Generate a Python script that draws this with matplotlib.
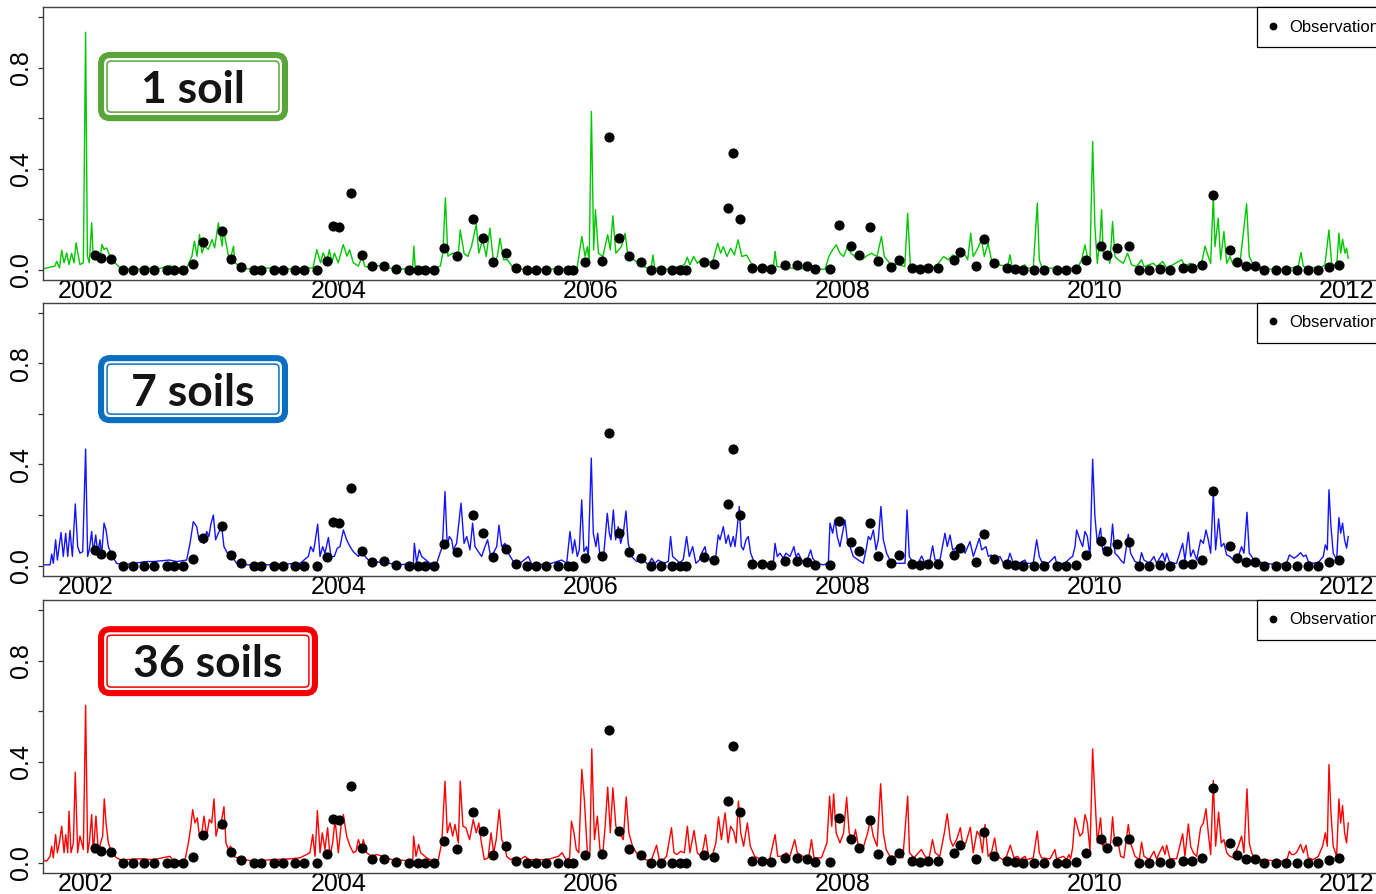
import numpy as np
import matplotlib.pyplot as plt
from matplotlib.patches import FancyBboxPatch
from matplotlib.lines import Line2D

# observations (decimal year, value) - same in all three panels
obs = [
    (2002.07, 0.060), (2002.12, 0.047), (2002.20, 0.043), (2002.29, 0.0), (2002.37, 0.0),
    (2002.46, 0.0), (2002.54, 0.0), (2002.64, 0.0), (2002.70, 0.0), (2002.77, 0.0),
    (2002.85, 0.025), (2002.93, 0.110), (2003.08, 0.155), (2003.15, 0.043), (2003.23, 0.010),
    (2003.33, 0.0), (2003.39, 0.0), (2003.49, 0.0), (2003.56, 0.0), (2003.66, 0.0),
    (2003.73, 0.0), (2003.83, 0.0), (2003.91, 0.035), (2003.96, 0.173), (2004.01, 0.170),
    (2004.10, 0.305), (2004.19, 0.057), (2004.27, 0.014), (2004.36, 0.017), (2004.46, 0.004),
    (2004.56, 0.0), (2004.63, 0.0), (2004.69, 0.0), (2004.76, 0.0), (2004.84, 0.087),
    (2004.94, 0.053), (2005.07, 0.202), (2005.15, 0.127), (2005.23, 0.033), (2005.33, 0.067),
    (2005.41, 0.007), (2005.50, 0.0), (2005.57, 0.0), (2005.65, 0.0), (2005.74, 0.0),
    (2005.82, 0.0), (2005.86, 0.0), (2005.96, 0.030), (2006.09, 0.037), (2006.15, 0.525),
    (2006.23, 0.127), (2006.31, 0.055), (2006.40, 0.030), (2006.48, 0.0), (2006.56, 0.0),
    (2006.65, 0.0), (2006.71, 0.0), (2006.76, 0.0), (2006.90, 0.033), (2006.98, 0.023),
    (2007.09, 0.245), (2007.13, 0.462), (2007.19, 0.200), (2007.28, 0.007), (2007.36, 0.007),
    (2007.43, 0.004), (2007.54, 0.020), (2007.64, 0.020), (2007.72, 0.016), (2007.78, 0.004),
    (2007.90, 0.004), (2007.97, 0.176), (2008.07, 0.095), (2008.13, 0.057), (2008.22, 0.170),
    (2008.28, 0.036), (2008.38, 0.010), (2008.45, 0.040), (2008.55, 0.007), (2008.61, 0.004),
    (2008.68, 0.007), (2008.76, 0.006), (2008.88, 0.040), (2008.93, 0.070), (2009.06, 0.016),
    (2009.12, 0.123), (2009.20, 0.026), (2009.30, 0.008), (2009.37, 0.004), (2009.43, 0.0),
    (2009.52, 0.0), (2009.60, 0.0), (2009.70, 0.0), (2009.77, 0.0), (2009.85, 0.004),
    (2009.93, 0.040), (2010.05, 0.096), (2010.10, 0.057), (2010.18, 0.086), (2010.27, 0.093),
    (2010.35, 0.0), (2010.43, 0.0), (2010.52, 0.004), (2010.60, 0.0), (2010.70, 0.008),
    (2010.77, 0.008), (2010.85, 0.021), (2010.94, 0.295), (2011.07, 0.077), (2011.13, 0.030),
    (2011.20, 0.014), (2011.27, 0.014), (2011.34, 0.0), (2011.44, 0.0), (2011.52, 0.0),
    (2011.60, 0.0), (2011.69, 0.0), (2011.77, 0.0), (2011.86, 0.013), (2011.94, 0.021),
]

# simulated series, 1 soil
sim_1soil = [
    (2001.659, 0.004), (2001.754, 0.015), (2001.767, 0.034), (2001.790, 0.008), (2001.807, 0.078),
    (2001.826, 0.028), (2001.847, 0.067), (2001.865, 0.021), (2001.886, 0.065), (2001.905, 0.028),
    (2001.921, 0.107), (2001.952, 0.021), (2001.979, 0.028), (2001.997, 0.940), (2002.011, 0.054),
    (2002.026, 0.028), (2002.045, 0.186), (2002.058, 0.041), (2002.085, 0.067), (2002.111, 0.048),
    (2002.127, 0.100), (2002.143, 0.081), (2002.164, 0.087), (2002.190, 0.054), (2002.230, 0.028),
    (2002.270, 0.008), (2002.320, 0.004), (2002.460, 0.004), (2002.480, 0.015), (2002.510, 0.004),
    (2002.550, 0.015), (2002.570, 0.004), (2002.670, 0.017), (2002.690, 0.004), (2002.800, 0.008),
    (2002.840, 0.054), (2002.860, 0.114), (2002.880, 0.054), (2002.900, 0.140), (2002.920, 0.067),
    (2002.940, 0.094), (2002.970, 0.081), (2003.000, 0.120), (2003.020, 0.087), (2003.050, 0.186),
    (2003.080, 0.094), (2003.090, 0.160), (2003.130, 0.054), (2003.150, 0.054), (2003.170, 0.094),
    (2003.180, 0.028), (2003.220, 0.015), (2003.270, 0.004), (2003.490, 0.008), (2003.620, 0.004),
    (2003.800, 0.008), (2003.830, 0.080), (2003.860, 0.028), (2003.880, 0.067), (2003.910, 0.034),
    (2003.930, 0.080), (2003.950, 0.028), (2003.970, 0.067), (2004.000, 0.028), (2004.040, 0.100),
    (2004.070, 0.054), (2004.090, 0.080), (2004.120, 0.028), (2004.160, 0.015), (2004.190, 0.054),
    (2004.210, 0.015), (2004.250, 0.008), (2004.360, 0.021), (2004.380, 0.008), (2004.490, 0.004),
    (2004.590, 0.004), (2004.600, 0.094), (2004.610, 0.015), (2004.750, 0.004), (2004.810, 0.015),
    (2004.830, 0.067), (2004.850, 0.285), (2004.870, 0.054), (2004.910, 0.067), (2004.950, 0.041),
    (2004.968, 0.158), (2004.998, 0.066), (2005.027, 0.053), (2005.057, 0.092), (2005.095, 0.181),
    (2005.115, 0.066), (2005.145, 0.119), (2005.174, 0.053), (2005.203, 0.165), (2005.233, 0.026),
    (2005.262, 0.053), (2005.283, 0.125), (2005.312, 0.040), (2005.342, 0.040), (2005.380, 0.013),
    (2005.424, 0.003), (2005.659, 0.003), (2005.894, 0.007), (2005.932, 0.132), (2005.958, 0.053),
    (2005.976, 0.092), (2005.990, 0.026), (2006.008, 0.627), (2006.026, 0.079), (2006.040, 0.238),
    (2006.064, 0.066), (2006.099, 0.053), (2006.137, 0.139), (2006.158, 0.079), (2006.178, 0.214),
    (2006.202, 0.066), (2006.246, 0.092), (2006.275, 0.145), (2006.299, 0.053), (2006.334, 0.046),
    (2006.378, 0.026), (2006.422, 0.013), (2006.481, 0.003), (2006.496, 0.059), (2006.510, 0.007),
    (2006.628, 0.003), (2006.745, 0.020), (2006.769, 0.050), (2006.789, 0.020), (2006.819, 0.053),
    (2006.848, 0.026), (2006.878, 0.042), (2006.921, 0.040), (2006.966, 0.026), (2007.010, 0.106),
    (2007.033, 0.066), (2007.054, 0.092), (2007.083, 0.053), (2007.112, 0.086), (2007.142, 0.059),
    (2007.171, 0.119), (2007.201, 0.053), (2007.239, 0.059), (2007.274, 0.026), (2007.333, 0.007),
    (2007.391, 0.013), (2007.450, 0.007), (2007.465, 0.073), (2007.479, 0.013), (2007.597, 0.007),
    (2007.744, 0.003), (2007.861, 0.003), (2007.891, 0.053), (2007.920, 0.079), (2007.950, 0.099),
    (2007.979, 0.066), (2008.008, 0.053), (2008.038, 0.092), (2008.067, 0.066), (2008.111, 0.046),
    (2008.155, 0.040), (2008.184, 0.053), (2008.228, 0.066), (2008.273, 0.053), (2008.308, 0.132),
    (2008.331, 0.053), (2008.375, 0.026), (2008.449, 0.020), (2008.493, 0.013), (2008.516, 0.224),
    (2008.537, 0.020), (2008.625, 0.013), (2008.742, 0.013), (2008.801, 0.053), (2008.836, 0.040),
    (2008.875, 0.059), (2008.919, 0.046), (2008.963, 0.066), (2008.992, 0.040), (2009.016, 0.145),
    (2009.036, 0.053), (2009.066, 0.079), (2009.101, 0.119), (2009.124, 0.053), (2009.154, 0.106),
    (2009.183, 0.033), (2009.242, 0.020), (2009.310, 0.013), (2009.327, 0.060), (2009.345, 0.010),
    (2009.388, 0.007), (2009.446, 0.020), (2009.459, 0.007), (2009.512, 0.007), (2009.544, 0.264),
    (2009.560, 0.040), (2009.578, 0.013), (2009.645, 0.007), (2009.777, 0.003), (2009.869, 0.013),
    (2009.896, 0.040), (2009.922, 0.099), (2009.941, 0.053), (2009.962, 0.040), (2009.983, 0.508),
    (2010.001, 0.172), (2010.020, 0.026), (2010.041, 0.119), (2010.054, 0.238), (2010.067, 0.066),
    (2010.094, 0.066), (2010.120, 0.026), (2010.141, 0.191), (2010.160, 0.053), (2010.186, 0.040),
    (2010.226, 0.026), (2010.260, 0.066), (2010.292, 0.020), (2010.332, 0.013), (2010.371, 0.040),
    (2010.390, 0.013), (2010.464, 0.026), (2010.490, 0.013), (2010.538, 0.033), (2010.570, 0.007),
    (2010.689, 0.040), (2010.715, 0.013), (2010.755, 0.026), (2010.808, 0.013), (2010.847, 0.026),
    (2010.874, 0.094), (2010.900, 0.053), (2010.919, 0.026), (2010.940, 0.297), (2010.953, 0.092),
    (2010.979, 0.205), (2010.998, 0.040), (2011.024, 0.152), (2011.046, 0.026), (2011.072, 0.053),
    (2011.098, 0.020), (2011.151, 0.026), (2011.204, 0.261), (2011.225, 0.053), (2011.257, 0.020),
    (2011.363, 0.003), (2011.495, 0.003), (2011.614, 0.013), (2011.635, 0.069), (2011.654, 0.013),
    (2011.786, 0.007), (2011.825, 0.020), (2011.857, 0.158), (2011.878, 0.026), (2011.918, 0.013),
    (2011.936, 0.145), (2011.950, 0.066), (2011.965, 0.121), (2011.984, 0.066), (2011.997, 0.086),
    (2012.010, 0.046),
]

# simulated series, 7 soils
sim_7soils = [
    (2001.659, 0.003), (2001.715, 0.003), (2001.728, 0.046), (2001.741, 0.009), (2001.759, 0.102),
    (2001.773, 0.022), (2001.802, 0.131), (2001.820, 0.036), (2001.839, 0.128), (2001.855, 0.036),
    (2001.873, 0.139), (2001.892, 0.036), (2001.915, 0.244), (2001.934, 0.075), (2001.952, 0.049),
    (2001.974, 0.055), (2001.997, 0.461), (2002.013, 0.036), (2002.026, 0.062), (2002.045, 0.135),
    (2002.058, 0.049), (2002.077, 0.121), (2002.093, 0.049), (2002.111, 0.102), (2002.124, 0.042),
    (2002.143, 0.168), (2002.159, 0.141), (2002.177, 0.075), (2002.204, 0.042), (2002.243, 0.009),
    (2002.296, 0.003), (2002.481, 0.016), (2002.534, 0.016), (2002.661, 0.022), (2002.719, 0.016),
    (2002.798, 0.022), (2002.825, 0.088), (2002.851, 0.174), (2002.878, 0.154), (2002.896, 0.102),
    (2002.917, 0.121), (2002.936, 0.088), (2002.957, 0.135), (2002.975, 0.115), (2002.989, 0.161),
    (2003.010, 0.200), (2003.028, 0.102), (2003.049, 0.128), (2003.076, 0.154), (2003.094, 0.075),
    (2003.129, 0.042), (2003.155, 0.036), (2003.195, 0.009), (2003.248, 0.003), (2003.433, 0.003),
    (2003.697, 0.009), (2003.763, 0.036), (2003.782, 0.075), (2003.803, 0.055), (2003.816, 0.091),
    (2003.837, 0.164), (2003.856, 0.036), (2003.877, 0.075), (2003.895, 0.049), (2003.922, 0.111),
    (2003.943, 0.036), (2003.969, 0.036), (2003.993, 0.069), (2004.014, 0.075), (2004.041, 0.141),
    (2004.067, 0.102), (2004.094, 0.075), (2004.120, 0.055), (2004.160, 0.036), (2004.186, 0.055),
    (2004.213, 0.036), (2004.252, 0.016), (2004.358, 0.012), (2004.490, 0.003), (2004.596, 0.009),
    (2004.604, 0.088), (2004.622, 0.012), (2004.643, 0.062), (2004.662, 0.036), (2004.728, 0.009),
    (2004.781, 0.009), (2004.807, 0.049), (2004.826, 0.075), (2004.847, 0.293), (2004.865, 0.075),
    (2004.881, 0.115), (2004.900, 0.102), (2004.913, 0.062), (2004.939, 0.088), (2004.974, 0.247),
    (2004.998, 0.088), (2005.019, 0.115), (2005.045, 0.062), (2005.066, 0.168), (2005.085, 0.075),
    (2005.111, 0.055), (2005.138, 0.036), (2005.164, 0.075), (2005.185, 0.102), (2005.209, 0.036),
    (2005.230, 0.049), (2005.257, 0.075), (2005.275, 0.160), (2005.296, 0.075), (2005.323, 0.088),
    (2005.349, 0.049), (2005.389, 0.016), (2005.428, 0.003), (2005.442, 0.009), (2005.508, 0.036),
    (2005.534, 0.007), (2005.653, 0.003), (2005.772, 0.022), (2005.812, 0.009), (2005.838, 0.135),
    (2005.859, 0.049), (2005.875, 0.102), (2005.896, 0.036), (2005.912, 0.062), (2005.931, 0.260),
    (2005.949, 0.055), (2005.970, 0.075), (2005.983, 0.036), (2006.007, 0.425), (2006.023, 0.128),
    (2006.044, 0.075), (2006.058, 0.128), (2006.076, 0.036), (2006.102, 0.022), (2006.134, 0.207),
    (2006.150, 0.128), (2006.163, 0.102), (2006.182, 0.220), (2006.200, 0.102), (2006.221, 0.154),
    (2006.240, 0.088), (2006.261, 0.128), (2006.282, 0.216), (2006.300, 0.088), (2006.327, 0.036),
    (2006.367, 0.016), (2006.420, 0.022), (2006.459, 0.003), (2006.486, 0.029), (2006.512, 0.009),
    (2006.539, 0.022), (2006.578, 0.009), (2006.618, 0.016), (2006.636, 0.115), (2006.652, 0.036),
    (2006.684, 0.022), (2006.710, 0.009), (2006.737, 0.025), (2006.763, 0.115), (2006.784, 0.036),
    (2006.811, 0.075), (2006.837, 0.009), (2006.864, 0.022), (2006.882, 0.049), (2006.909, 0.075),
    (2006.922, 0.036), (2006.948, 0.022), (2006.988, 0.009), (2007.014, 0.121), (2007.028, 0.102),
    (2007.054, 0.154), (2007.075, 0.088), (2007.094, 0.121), (2007.112, 0.075), (2007.133, 0.115),
    (2007.147, 0.075), (2007.165, 0.154), (2007.181, 0.234), (2007.197, 0.075), (2007.213, 0.062),
    (2007.234, 0.102), (2007.252, 0.115), (2007.271, 0.049), (2007.292, 0.022), (2007.318, 0.009),
    (2007.398, 0.003), (2007.451, 0.009), (2007.464, 0.088), (2007.482, 0.036), (2007.503, 0.049),
    (2007.530, 0.029), (2007.551, 0.049), (2007.583, 0.036), (2007.614, 0.075), (2007.630, 0.036),
    (2007.649, 0.049), (2007.675, 0.022), (2007.710, 0.009), (2007.747, 0.062), (2007.763, 0.029),
    (2007.794, 0.009), (2007.847, 0.003), (2007.887, 0.009), (2007.900, 0.168), (2007.921, 0.128),
    (2007.940, 0.181), (2007.958, 0.115), (2007.979, 0.075), (2008.019, 0.181), (2008.037, 0.102),
    (2008.059, 0.075), (2008.085, 0.036), (2008.125, 0.022), (2008.164, 0.009), (2008.191, 0.075),
    (2008.204, 0.115), (2008.222, 0.102), (2008.244, 0.141), (2008.265, 0.062), (2008.283, 0.102),
    (2008.304, 0.234), (2008.323, 0.102), (2008.349, 0.049), (2008.376, 0.022), (2008.402, 0.009),
    (2008.455, 0.009), (2008.495, 0.009), (2008.511, 0.220), (2008.529, 0.036), (2008.561, 0.009),
    (2008.601, 0.012), (2008.627, 0.038), (2008.653, 0.009), (2008.693, 0.022), (2008.714, 0.078),
    (2008.733, 0.022), (2008.772, 0.022), (2008.812, 0.128), (2008.830, 0.075), (2008.852, 0.121),
    (2008.873, 0.062), (2008.899, 0.069), (2008.926, 0.075), (2008.944, 0.088), (2008.971, 0.049),
    (2009.010, 0.095), (2009.037, 0.036), (2009.063, 0.075), (2009.084, 0.108), (2009.103, 0.062),
    (2009.137, 0.075), (2009.156, 0.036), (2009.177, 0.042), (2009.195, 0.022), (2009.248, 0.036),
    (2009.275, 0.009), (2009.301, 0.003), (2009.327, 0.049), (2009.354, 0.009), (2009.394, 0.009),
    (2009.446, 0.022), (2009.459, 0.009), (2009.512, 0.009), (2009.539, 0.102), (2009.560, 0.036),
    (2009.578, 0.016), (2009.631, 0.009), (2009.684, 0.036), (2009.697, 0.009), (2009.763, 0.009),
    (2009.803, 0.029), (2009.824, 0.036), (2009.843, 0.075), (2009.856, 0.141), (2009.882, 0.102),
    (2009.904, 0.075), (2009.922, 0.135), (2009.941, 0.115), (2009.962, 0.036), (2009.983, 0.421),
    (2010.001, 0.194), (2010.020, 0.088), (2010.046, 0.148), (2010.062, 0.062), (2010.081, 0.075),
    (2010.107, 0.049), (2010.126, 0.075), (2010.141, 0.164), (2010.160, 0.049), (2010.186, 0.036),
    (2010.205, 0.022), (2010.231, 0.009), (2010.266, 0.124), (2010.284, 0.049), (2010.319, 0.016),
    (2010.353, 0.009), (2010.371, 0.051), (2010.390, 0.022), (2010.432, 0.009), (2010.469, 0.036),
    (2010.490, 0.009), (2010.538, 0.049), (2010.556, 0.016), (2010.570, 0.049), (2010.596, 0.009),
    (2010.649, 0.009), (2010.697, 0.088), (2010.715, 0.022), (2010.742, 0.132), (2010.760, 0.036),
    (2010.781, 0.062), (2010.808, 0.022), (2010.839, 0.102), (2010.861, 0.088), (2010.882, 0.141),
    (2010.900, 0.102), (2010.919, 0.049), (2010.940, 0.286), (2010.958, 0.062), (2010.982, 0.185),
    (2011.003, 0.075), (2011.024, 0.088), (2011.046, 0.042), (2011.072, 0.036), (2011.098, 0.022),
    (2011.138, 0.036), (2011.164, 0.075), (2011.183, 0.049), (2011.207, 0.211), (2011.225, 0.049),
    (2011.244, 0.036), (2011.270, 0.016), (2011.363, 0.009), (2011.442, 0.003), (2011.521, 0.009),
    (2011.543, 0.042), (2011.561, 0.036), (2011.580, 0.029), (2011.601, 0.036), (2011.632, 0.051),
    (2011.654, 0.036), (2011.675, 0.042), (2011.693, 0.016), (2011.733, 0.009), (2011.772, 0.012),
    (2011.812, 0.036), (2011.828, 0.082), (2011.844, 0.062), (2011.857, 0.300), (2011.873, 0.154),
    (2011.891, 0.049), (2011.918, 0.022), (2011.936, 0.190), (2011.950, 0.128), (2011.965, 0.168),
    (2011.981, 0.102), (2011.997, 0.069), (2012.010, 0.115),
]

# simulated series, 36 soils
sim_36soils = [
    (2001.659, 0.011), (2001.688, 0.007), (2001.715, 0.026), (2001.728, 0.066), (2001.741, 0.020),
    (2001.759, 0.112), (2001.773, 0.040), (2001.789, 0.079), (2001.807, 0.145), (2001.826, 0.040),
    (2001.839, 0.112), (2001.855, 0.040), (2001.865, 0.205), (2001.881, 0.040), (2001.900, 0.079),
    (2001.915, 0.359), (2001.934, 0.040), (2001.952, 0.106), (2001.979, 0.053), (2001.997, 0.623),
    (2002.013, 0.040), (2002.026, 0.079), (2002.045, 0.191), (2002.058, 0.040), (2002.079, 0.185),
    (2002.098, 0.040), (2002.116, 0.079), (2002.132, 0.106), (2002.145, 0.253), (2002.159, 0.158),
    (2002.177, 0.079), (2002.204, 0.040), (2002.243, 0.020), (2002.296, 0.007), (2002.322, 0.013),
    (2002.428, 0.016), (2002.534, 0.013), (2002.666, 0.026), (2002.693, 0.007), (2002.785, 0.011),
    (2002.812, 0.079), (2002.830, 0.139), (2002.846, 0.211), (2002.864, 0.158), (2002.883, 0.178),
    (2002.899, 0.106), (2002.917, 0.112), (2002.936, 0.185), (2002.957, 0.106), (2002.978, 0.172),
    (2002.997, 0.158), (2003.015, 0.253), (2003.031, 0.106), (2003.049, 0.145), (2003.076, 0.172),
    (2003.094, 0.222), (2003.110, 0.079), (2003.129, 0.053), (2003.147, 0.066), (2003.168, 0.026),
    (2003.221, 0.016), (2003.327, 0.007), (2003.486, 0.013), (2003.618, 0.016), (2003.697, 0.020),
    (2003.776, 0.040), (2003.798, 0.112), (2003.816, 0.026), (2003.835, 0.207), (2003.856, 0.040),
    (2003.874, 0.119), (2003.895, 0.053), (2003.916, 0.139), (2003.935, 0.026), (2003.956, 0.079),
    (2003.975, 0.172), (2004.001, 0.040), (2004.028, 0.172), (2004.041, 0.191), (2004.067, 0.106),
    (2004.094, 0.066), (2004.120, 0.040), (2004.141, 0.046), (2004.160, 0.092), (2004.186, 0.053),
    (2004.199, 0.092), (2004.226, 0.040), (2004.265, 0.026), (2004.305, 0.033), (2004.358, 0.026),
    (2004.424, 0.013), (2004.490, 0.011), (2004.591, 0.007), (2004.598, 0.106), (2004.617, 0.026),
    (2004.638, 0.073), (2004.654, 0.040), (2004.702, 0.020), (2004.754, 0.007), (2004.794, 0.013),
    (2004.821, 0.079), (2004.847, 0.323), (2004.865, 0.119), (2004.887, 0.158), (2004.908, 0.106),
    (2004.926, 0.152), (2004.953, 0.079), (2004.968, 0.323), (2004.989, 0.145), (2005.013, 0.139),
    (2005.042, 0.092), (2005.071, 0.172), (2005.095, 0.119), (2005.115, 0.158), (2005.136, 0.079),
    (2005.159, 0.013), (2005.189, 0.020), (2005.212, 0.119), (2005.233, 0.040), (2005.253, 0.092),
    (2005.277, 0.211), (2005.297, 0.092), (2005.321, 0.066), (2005.336, 0.026), (2005.365, 0.013),
    (2005.394, 0.020), (2005.424, 0.007), (2005.482, 0.026), (2005.512, 0.013), (2005.571, 0.013),
    (2005.659, 0.013), (2005.747, 0.026), (2005.776, 0.040), (2005.806, 0.013), (2005.835, 0.020),
    (2005.850, 0.165), (2005.870, 0.119), (2005.888, 0.053), (2005.908, 0.040), (2005.932, 0.370),
    (2005.952, 0.251), (2005.976, 0.040), (2005.996, 0.033), (2006.011, 0.451), (2006.032, 0.092),
    (2006.055, 0.185), (2006.076, 0.053), (2006.099, 0.040), (2006.117, 0.145), (2006.137, 0.300),
    (2006.158, 0.119), (2006.178, 0.297), (2006.202, 0.145), (2006.231, 0.119), (2006.261, 0.092),
    (2006.284, 0.261), (2006.305, 0.119), (2006.334, 0.066), (2006.364, 0.040), (2006.393, 0.026),
    (2006.437, 0.013), (2006.481, 0.007), (2006.525, 0.070), (2006.546, 0.013), (2006.569, 0.007),
    (2006.604, 0.026), (2006.643, 0.139), (2006.663, 0.040), (2006.687, 0.033), (2006.716, 0.046),
    (2006.745, 0.040), (2006.769, 0.145), (2006.789, 0.040), (2006.822, 0.128), (2006.848, 0.040),
    (2006.878, 0.026), (2006.898, 0.066), (2006.913, 0.112), (2006.936, 0.026), (2006.966, 0.026),
    (2006.995, 0.079), (2007.016, 0.182), (2007.039, 0.092), (2007.068, 0.198), (2007.092, 0.079),
    (2007.112, 0.145), (2007.136, 0.125), (2007.156, 0.079), (2007.174, 0.244), (2007.192, 0.119),
    (2007.215, 0.066), (2007.245, 0.158), (2007.268, 0.066), (2007.303, 0.026), (2007.362, 0.011),
    (2007.421, 0.013), (2007.465, 0.112), (2007.485, 0.026), (2007.524, 0.026), (2007.553, 0.040),
    (2007.582, 0.026), (2007.620, 0.092), (2007.641, 0.040), (2007.685, 0.026), (2007.729, 0.013),
    (2007.753, 0.092), (2007.773, 0.020), (2007.832, 0.020), (2007.876, 0.079), (2007.897, 0.264),
    (2007.914, 0.145), (2007.929, 0.273), (2007.949, 0.119), (2007.979, 0.079), (2008.008, 0.119),
    (2008.032, 0.260), (2008.052, 0.119), (2008.082, 0.079), (2008.102, 0.132), (2008.126, 0.066),
    (2008.155, 0.046), (2008.199, 0.119), (2008.220, 0.172), (2008.243, 0.106), (2008.273, 0.066),
    (2008.302, 0.313), (2008.323, 0.119), (2008.346, 0.053), (2008.375, 0.026), (2008.419, 0.026),
    (2008.478, 0.020), (2008.516, 0.264), (2008.531, 0.040), (2008.566, 0.020), (2008.625, 0.053),
    (2008.654, 0.026), (2008.684, 0.013), (2008.713, 0.092), (2008.734, 0.040), (2008.771, 0.026),
    (2008.807, 0.119), (2008.830, 0.194), (2008.854, 0.092), (2008.875, 0.066), (2008.904, 0.092),
    (2008.934, 0.139), (2008.954, 0.066), (2008.977, 0.079), (2009.013, 0.141), (2009.036, 0.040),
    (2009.066, 0.125), (2009.089, 0.106), (2009.109, 0.040), (2009.130, 0.152), (2009.154, 0.026),
    (2009.183, 0.046), (2009.206, 0.099), (2009.227, 0.026), (2009.271, 0.013), (2009.300, 0.026),
    (2009.330, 0.070), (2009.359, 0.020), (2009.388, 0.026), (2009.407, 0.013), (2009.446, 0.026),
    (2009.459, 0.013), (2009.512, 0.020), (2009.544, 0.125), (2009.560, 0.040), (2009.578, 0.020),
    (2009.645, 0.016), (2009.684, 0.053), (2009.697, 0.016), (2009.750, 0.026), (2009.777, 0.013),
    (2009.795, 0.033), (2009.808, 0.016), (2009.824, 0.059), (2009.843, 0.178), (2009.861, 0.145),
    (2009.882, 0.106), (2009.904, 0.119), (2009.922, 0.191), (2009.941, 0.158), (2009.962, 0.046),
    (2009.983, 0.451), (2010.001, 0.264), (2010.020, 0.079), (2010.046, 0.178), (2010.062, 0.066),
    (2010.081, 0.092), (2010.107, 0.053), (2010.126, 0.079), (2010.141, 0.182), (2010.160, 0.066),
    (2010.186, 0.079), (2010.205, 0.026), (2010.231, 0.020), (2010.266, 0.152), (2010.284, 0.079),
    (2010.319, 0.026), (2010.353, 0.013), (2010.371, 0.082), (2010.390, 0.026), (2010.432, 0.013),
    (2010.469, 0.046), (2010.490, 0.016), (2010.538, 0.066), (2010.556, 0.033), (2010.570, 0.070),
    (2010.596, 0.016), (2010.649, 0.016), (2010.697, 0.115), (2010.715, 0.026), (2010.742, 0.154),
    (2010.760, 0.066), (2010.781, 0.040), (2010.808, 0.026), (2010.839, 0.139), (2010.861, 0.158),
    (2010.882, 0.214), (2010.900, 0.119), (2010.919, 0.033), (2010.940, 0.326), (2010.958, 0.066),
    (2010.982, 0.201), (2011.003, 0.079), (2011.024, 0.092), (2011.046, 0.040), (2011.072, 0.026),
    (2011.098, 0.020), (2011.138, 0.066), (2011.164, 0.106), (2011.183, 0.040), (2011.207, 0.293),
    (2011.225, 0.079), (2011.244, 0.040), (2011.270, 0.016), (2011.363, 0.011), (2011.442, 0.007),
    (2011.521, 0.007), (2011.543, 0.046), (2011.561, 0.033), (2011.580, 0.033), (2011.601, 0.042),
    (2011.632, 0.073), (2011.654, 0.040), (2011.675, 0.070), (2011.693, 0.020), (2011.733, 0.013),
    (2011.772, 0.026), (2011.807, 0.066), (2011.828, 0.119), (2011.844, 0.066), (2011.857, 0.389),
    (2011.873, 0.198), (2011.891, 0.066), (2011.918, 0.026), (2011.936, 0.253), (2011.950, 0.158),
    (2011.965, 0.227), (2011.981, 0.119), (2011.997, 0.079), (2012.010, 0.158),
]

year_ticks = [2002, 2004, 2006, 2008, 2010, 2012]
y_ticks = [0.0, 0.2, 0.4, 0.6, 0.8, 1.0]
y_ticklabels = ['0.0', '', '0.4', '', '0.8', '']

panel_labels = ['1 soil', '7 soils', '36 soils']
line_colors = ['#00C800', '#1414FF', '#FF0000']
box_colors = ['#59A53A', '#0A6FC0', '#F50000']

# layout (pixels of the 1376x894 canvas)
W, H = 1376, 894
ax_left, ax_right = 43, 1392
ax_height = 273
ax_bottoms = [280, 575.7, 873]
# label box: x0, y0, width, height in axes fraction, then text baseline
boxes = [
    (0.0408, 0.582, 0.1408, 0.253, 0.648),
    (0.0408, 0.559, 0.1408, 0.249, 0.622),
    (0.0408, 0.648, 0.1630, 0.256, 0.718),
]

fig = plt.figure(figsize=(W / 100, H / 100), dpi=100)

obs_t, obs_v = np.array(obs).T
axw_px = ax_right - ax_left
aspect = axw_px / ax_height

for i, series in enumerate([sim_1soil, sim_7soils, sim_36soils]):
    ax = fig.add_axes([ax_left / W, 1 - ax_bottoms[i] / H, axw_px / W, ax_height / H])
    t, v = np.array(series).T
    ax.plot(t, v, color=line_colors[i], lw=1.0, zorder=2)
    ax.plot(obs_t, obs_v, 'o', color='black', ms=6.3, mec='black', zorder=3)

    ax.set_xlim(2001.659, 2012.357)
    ax.set_ylim(-0.04, 1.04)
    ax.set_xticks(year_ticks)
    ax.set_xticklabels([str(y) for y in year_ticks])
    ax.set_yticks(y_ticks)
    ax.set_yticklabels(y_ticklabels)
    ax.tick_params(axis='both', colors='#333333', labelcolor='black', width=0.9,
                   labelsize=18, labelfontfamily='Liberation Sans')
    ax.tick_params(axis='x', length=3.5, pad=-4.3)
    ax.tick_params(axis='y', length=3.8, pad=3.5, labelrotation=90)
    for lbl in ax.get_yticklabels():
        lbl.set_va('center')
    for sp in ax.spines.values():
        sp.set_color('#404040')
        sp.set_linewidth(1.0)

    # legend box in the upper right corner (cut by the canvas edge, as in the original)
    h = Line2D([], [], marker='o', color='black', ls='none', markersize=4.6)
    leg = ax.legend([h], ['Observation'], loc='upper right', bbox_to_anchor=(1, 1),
                    borderaxespad=0, fancybox=False, edgecolor='black', framealpha=1,
                    prop={'family': 'Liberation Sans', 'size': 12},
                    handlelength=0.45, handletextpad=0.75, borderpad=0.75)
    leg.get_frame().set_linewidth(0.9)

    # double-bordered label box
    x0, y0, bw, bh, base = boxes[i]
    dx, dy = 3 / axw_px, 3 / ax_height
    outer = FancyBboxPatch((x0 + dx, y0 + dy), bw - 2 * dx, bh - 2 * dy,
                           boxstyle='round,pad=0,rounding_size=%f' % (9 / axw_px),
                           mutation_aspect=aspect, transform=ax.transAxes,
                           fc='white', ec=box_colors[i], lw=4.4, zorder=5)
    ax.add_patch(outer)
    dx2, dy2 = 9 / axw_px, 9 / ax_height
    inner = FancyBboxPatch((x0 + dx2, y0 + dy2), bw - 2 * dx2, bh - 2 * dy2,
                           boxstyle='round,pad=0,rounding_size=%f' % (4 / axw_px),
                           mutation_aspect=aspect, transform=ax.transAxes,
                           fc='none', ec=box_colors[i], lw=1.1, zorder=6)
    ax.add_patch(inner)
    ax.text(x0 + bw / 2, base, panel_labels[i], transform=ax.transAxes,
            ha='center', va='baseline', fontsize=32, fontweight='bold',
            family='Lato', color='#141414', zorder=7)

fig.savefig('out.png', dpi=100)
